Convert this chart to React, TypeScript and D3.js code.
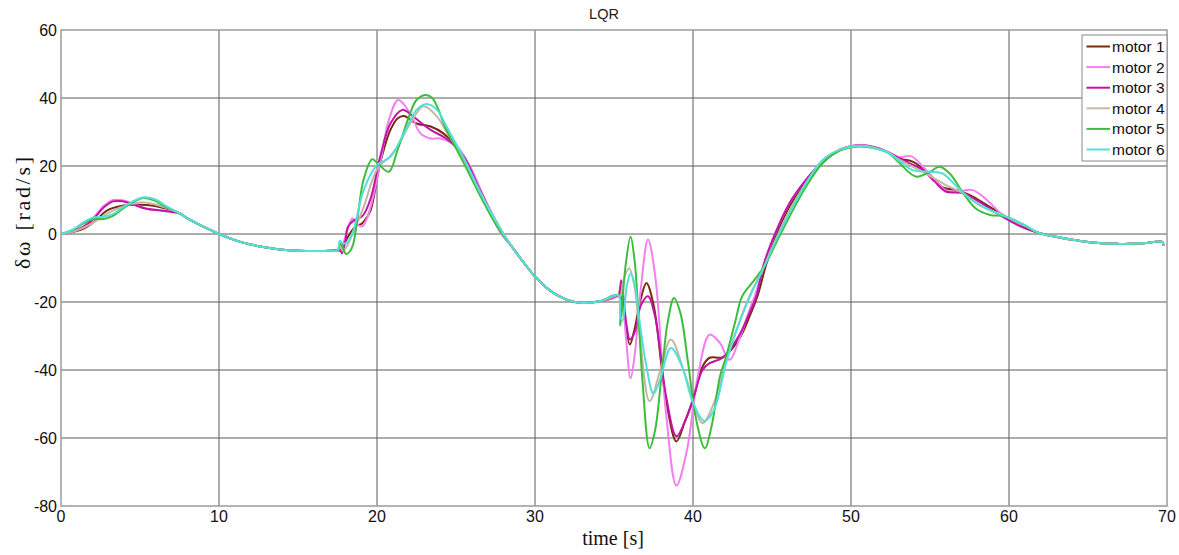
import React from "react";
import * as d3 from "d3";

type P = [number, number];

const X_TICKS = [0, 10, 20, 30, 40, 50, 60, 70];
const Y_TICKS = [-80, -60, -40, -20, 0, 20, 40, 60];
const SERIES_NAMES = ["motor 1", "motor 2", "motor 3", "motor 4", "motor 5", "motor 6"];
const SERIES_COLORS = ["#7a2a10", "#f27ef0", "#c414a6", "#c6b6a6", "#3cbe3c", "#52e0d8"];

// shared stretches where all motors overlap
const COMMON_A: P[] = [[7.5, 6.1], [8, 4.6], [9, 2.2], [10, 0], [11, -1.8], [12, -3.1], [13, -4], [14, -4.6], [15, -4.9], [16, -5], [17, -4.9], [17.5, -4.8]];
const COMMON_B: P[] = [[28.5, -3.5], [29.3, -8.5], [30, -12.5], [31, -16.8], [32, -19.3], [33, -20.3], [34.1, -19.8]];
const COMMON_C: P[] = [[61.9, 0.3], [63.2, -1], [64.2, -1.8], [65.3, -2.5], [66.8, -2.9], [68.5, -2.7], [69.7, -2.3], [69.78, -3.4]];

// motor 1
const M1_START: P[] = [[0, 0], [0.5, 0.3], [1.4, 1.5], [2.2, 4], [2.9, 6.9], [3.9, 8.3], [5, 8.6], [5.85, 8.3], [6.7, 7.4]];
const M1_MID: P[] = [[17.7, -4.5], [17.9, -3], [18.2, -0.5], [18.5, 1.5], [18.7, 2.5], [19, 2.9], [19.3, 4.5], [19.6, 7], [20.2, 20.8], [20.85, 30.6], [21.3, 34], [21.7, 34.7], [22.5, 32.5], [23.4, 31.6], [24.2, 29.6], [25.05, 25.7], [25.9, 19], [26.75, 10.5], [27.8, 0.8]];
const M1_LATE: P[] = [[35.27, -18], [35.4, -15.5], [35.6, -22], [36, -32.5], [36.3, -28], [36.7, -19], [37.05, -14.4], [37.5, -20.7], [38.3, -49], [38.95, -61], [39.5, -55], [40, -48.7], [40.6, -39], [41.05, -36.4], [41.9, -36.2], [42.9, -31], [43.6, -24], [44.1, -18], [44.6, -9.5], [45.25, -0.5], [46.1, 8], [47.15, 15.3], [48.2, 21], [49.3, 24.7], [50.5, 26], [51.5, 25.4], [52.4, 23.9], [53.0, 22.2], [53.9, 21.3], [55, 17.4], [55.8, 13.7], [56.7, 12.9], [57.5, 11.5], [58.6, 8.5], [59.6, 5.6], [60.7, 2.4]];

// motor 2
const M2_START: P[] = [[0, 0], [0.5, 0.3], [1.4, 2.2], [2.05, 4.8], [2.7, 8.2], [3.3, 10], [3.9, 9.9], [4.6, 8.8], [5.4, 7.5], [6.3, 7], [7.1, 6.6]];
const M2_MID: P[] = [[17.7, -5], [17.95, -1.5], [18.3, 3.5], [18.45, 4.6], [18.7, 3], [19.05, 2.2], [19.3, 3.9], [19.6, 8], [20.2, 20.8], [20.75, 33.5], [21.35, 39.4], [22.1, 35.5], [22.75, 29.6], [23.4, 28.1], [24, 28.1], [25.05, 25.7], [25.9, 19.8], [26.75, 11], [27.8, 0.5]];
const M2_LATE: P[] = [[35.27, -18], [35.45, -15], [35.75, -30], [36.05, -42.4], [36.3, -36], [36.7, -16], [37.15, -1.6], [37.6, -12], [38.3, -53], [38.95, -74], [39.6, -64], [40.3, -42], [41.05, -29.6], [41.7, -32], [42.3, -37], [43, -30], [43.6, -22], [44, -17], [44.5, -8.6], [45.25, 0.7], [46.1, 9], [47.15, 15.9], [48.2, 21.3], [49.3, 24.8], [50.5, 26.2], [51.5, 25.6], [52.4, 24], [52.9, 22.5], [53.8, 22.9], [54.55, 19.8], [55.3, 15.9], [56, 12.9], [56.7, 12.5], [57.7, 12.9], [58.6, 10], [59.6, 5.6], [60.7, 2.6]];

// motor 3
const M3_START: P[] = [[0, 0], [0.5, 0.3], [1.4, 2], [2.05, 4.4], [2.7, 7.8], [3.3, 9.6], [3.9, 9.6], [4.6, 8.6], [5.4, 7.4], [6.3, 6.9], [7.1, 6.4]];
const M3_MID: P[] = [[17.7, -4.9], [17.78, -5.7], [18, -2], [18.15, 2], [18.5, 3.9], [19.1, 5.4], [19.6, 10.5], [20.2, 22.7], [20.85, 32.5], [21.6, 36.5], [22.3, 34.5], [23.4, 30.6], [24.4, 28], [25.5, 22.7], [26.5, 13], [27.8, 1.5]];
const M3_LATE: P[] = [[35.27, -18], [35.33, -18], [35.45, -13.6], [35.55, -16.6], [35.8, -27], [36, -31], [36.3, -29], [36.7, -21], [37.15, -18.3], [37.6, -24.3], [38.3, -47.8], [38.95, -59.5], [39.5, -55], [40, -48.7], [40.6, -40], [41.05, -38], [41.9, -36.3], [42.9, -30], [43.6, -23], [44, -18.4], [44.5, -8.6], [45.25, 0.7], [46.1, 9], [47.15, 15.9], [48.2, 21.3], [49.3, 24.8], [50.5, 26.1], [51.5, 25.5], [52.4, 23.9], [53.5, 21.3], [54.56, 18.8], [55.3, 15.4], [56, 12.5], [57.1, 12], [58.1, 9.5], [59.4, 5.6], [60.7, 2.3]];

// motor 4
const M4_START: P[] = [[0, 0], [0.5, 0.3], [1.4, 1.8], [2.2, 3.8], [2.9, 6], [3.9, 8], [5, 9.3], [5.85, 8.8], [6.7, 7.6]];
const M4_MID: P[] = [[17.7, -4], [17.85, -5], [18.1, -3.5], [18.5, 0.5], [19.16, 8], [20, 19], [20.85, 23], [21.3, 25.7], [22.1, 32.5], [22.95, 37.6], [23.8, 34.5], [24.4, 30], [25.5, 22], [26.5, 12.5], [27.7, 2.5]];
const M4_LATE: P[] = [[35.27, -18], [35.4, -18.5], [35.6, -13.6], [35.96, -10.1], [36.3, -15.6], [36.6, -28], [37.25, -49.2], [37.9, -40.6], [38.6, -31], [39.5, -41.4], [40.6, -55.6], [41.3, -50], [42.15, -36.5], [43, -25], [43.6, -18], [44.5, -9.6], [45.25, -1.5], [46.1, 6.8], [47.15, 15], [48.2, 21.5], [49.3, 24.8], [50.5, 26], [51.5, 25.4], [52.4, 23.9], [53.0, 22], [53.9, 19.8], [55, 17.1], [56, 14.4], [57.1, 12], [58.1, 8.5], [59.8, 5.1], [61, 2.5]];

// motor 5
const M5_START: P[] = [[0, 0], [0.78, 1.2], [1.41, 3.1], [2.05, 4.4], [2.68, 4.4], [3.31, 5.4], [4.16, 8.3], [5.21, 10.6], [5.84, 10], [6.7, 7.8]];
const M5_MID: P[] = [[17.7, -2.9], [18.05, -5.9], [18.3, -5], [18.5, -2.9], [18.8, 5.9], [19.15, 16], [19.7, 22], [20.1, 20.5], [20.75, 18.3], [21.3, 24.7], [22.1, 35.5], [22.5, 39.4], [23.05, 40.9], [23.5, 40], [24.4, 30.6], [25.5, 20.8], [26.5, 11.5], [27.6, 2.2]];
const M5_LATE: P[] = [[35.27, -18], [35.4, -26.9], [35.7, -10.6], [36.05, -0.8], [36.3, -7.7], [36.5, -20], [36.8, -43], [37.25, -63], [37.6, -57.7], [38, -42], [38.4, -25.9], [38.8, -18.8], [39.2, -23.2], [39.7, -38.3], [40.2, -54.6], [40.75, -63], [41.2, -56], [41.7, -42], [42.1, -36], [42.7, -25.3], [43.1, -18.4], [43.8, -14], [44.5, -9.6], [45.25, -2.7], [46.1, 5.1], [47.15, 13.9], [48.2, 20.8], [49.3, 24.5], [50.5, 25.7], [51.5, 25.2], [52.4, 23.7], [52.97, 21.3], [54.1, 16.9], [55, 18.3], [55.6, 19.8], [56.25, 17.8], [57.1, 12], [57.9, 7.5], [58.8, 5.6], [59.6, 5.3], [60.25, 4.3], [61, 2.5]];

// motor 6
const M6_START: P[] = [[0, 0], [0.78, 1.4], [1.41, 3.4], [2.05, 4.9], [2.68, 5.1], [3.31, 5.9], [4.16, 8.6], [5.21, 10.8], [5.9, 10.3], [6.8, 7.8]];
const M6_MID: P[] = [[17.65, -2], [17.85, -2.8], [18.1, -2.5], [18.5, 1], [19.16, 13], [20, 20.3], [20.85, 22.7], [21.7, 29.6], [22.5, 36.5], [23.15, 38.2], [23.8, 36.5], [24.4, 31.6], [25.5, 22.3], [26.5, 12.5], [27.6, 3.1]];
const M6_LATE: P[] = [[35.27, -18], [35.4, -24.4], [35.55, -25.4], [35.8, -15.6], [36.05, -11.6], [36.3, -14.5], [36.6, -25], [37, -37.5], [37.5, -47], [37.9, -43], [38.6, -33.5], [39.3, -38.9], [40, -49.6], [40.7, -55], [41.3, -52], [42.15, -37], [43, -25.2], [43.7, -17.4], [44.5, -9.6], [45.25, -1.8], [46.1, 6.1], [47.15, 14.9], [48.2, 21.8], [49.3, 24.8], [50.5, 25.9], [51.5, 25.3], [52.4, 23.8], [52.97, 21.8], [53.9, 18.8], [55, 18.3], [55.8, 17.8], [56.7, 13.9], [57.5, 10.5], [58.6, 7.5], [59.8, 5.1], [61, 2.6]];

const MOTOR1: P[] = [...M1_START, ...COMMON_A, ...M1_MID, ...COMMON_B, ...M1_LATE, ...COMMON_C];
const MOTOR2: P[] = [...M2_START, ...COMMON_A, ...M2_MID, ...COMMON_B, ...M2_LATE, ...COMMON_C];
const MOTOR3: P[] = [...M3_START, ...COMMON_A, ...M3_MID, ...COMMON_B, ...M3_LATE, ...COMMON_C];
const MOTOR4: P[] = [...M4_START, ...COMMON_A, ...M4_MID, ...COMMON_B, ...M4_LATE, ...COMMON_C];
const MOTOR5: P[] = [...M5_START, ...COMMON_A, ...M5_MID, ...COMMON_B, ...M5_LATE, ...COMMON_C];
const MOTOR6: P[] = [...M6_START, ...COMMON_A, ...M6_MID, ...COMMON_B, ...M6_LATE, ...COMMON_C];
const SERIES = [MOTOR1, MOTOR2, MOTOR3, MOTOR4, MOTOR5, MOTOR6];

const W = 1179;
const H = 555;
const LEFT = 61;
const RIGHT = 1167;
const TOP = 30;
const BOTTOM = 506;

export default function App() {
  const x = d3.scaleLinear().domain([0, 70]).range([LEFT, RIGHT]);
  const y = d3.scaleLinear().domain([-80, 60]).range([BOTTOM, TOP]);
  const line = d3
    .line<P>()
    .x((d) => x(d[0]))
    .y((d) => y(d[1]))
    .curve(d3.curveCatmullRom.alpha(0.5));

  const sans = "'Liberation Sans', Arial, sans-serif";
  const serif = "'Liberation Serif', 'Times New Roman', serif";

  const legX = 1082;
  const legY = 35;
  const legW = 85;
  const legRow = 20.6;

  return (
    <svg
      width={W}
      height={H}
      style={{ position: "absolute", left: 0, top: 0, background: "#fff" }}
    >
      <rect x={0} y={0} width={W} height={H} fill="#fff" />
      <text x={604} y={19} fontFamily={sans} fontSize={14.5} textAnchor="middle" fill="#222">
        LQR
      </text>
      {/* grid */}
      {X_TICKS.slice(1, -1).map((t) => (
        <line key={"gx" + t} x1={x(t)} x2={x(t)} y1={TOP} y2={BOTTOM} stroke="#5a5a5a" strokeWidth={1} />
      ))}
      {Y_TICKS.slice(1, -1).map((t) => (
        <line key={"gy" + t} x1={LEFT} x2={RIGHT} y1={y(t)} y2={y(t)} stroke="#5a5a5a" strokeWidth={1} />
      ))}
      <rect x={LEFT} y={TOP} width={RIGHT - LEFT} height={BOTTOM - TOP} fill="none" stroke="#9a9a9a" strokeWidth={1.5} />
      {/* ticks */}
      {X_TICKS.map((t) => (
        <text key={"tx" + t} x={x(t)} y={522} fontFamily={sans} fontSize={16} textAnchor="middle" fill="#111">
          {t}
        </text>
      ))}
      {Y_TICKS.map((t) => (
        <text key={"ty" + t} x={57} y={y(t)} dy="0.36em" fontFamily={sans} fontSize={16} textAnchor="end" fill="#111">
          {t}
        </text>
      ))}
      <text x={613} y={545} fontFamily={serif} fontSize={20} textAnchor="middle" fill="#111">
        time [s]
      </text>
      <text
        transform={`translate(30, 213) rotate(-90)`}
        fontFamily={serif}
        fontSize={22}
        textAnchor="middle"
        textLength={112}
        lengthAdjust="spacing"
        fill="#111"
      >
        δω [rad/s]
      </text>
      {/* series */}
      <g clipPath="url(#plotclip)">
        {SERIES.map((s, i) => (
          <path key={"s" + i} d={line(s) || ""} fill="none" stroke={SERIES_COLORS[i]} strokeWidth={2} />
        ))}
      </g>
      <defs>
        <clipPath id="plotclip">
          <rect x={LEFT} y={TOP} width={RIGHT - LEFT} height={BOTTOM - TOP} />
        </clipPath>
      </defs>
      {/* legend */}
      <rect x={legX} y={legY} width={legW} height={126} fill="#fff" stroke="#8a8a8a" strokeWidth={1} />
      {SERIES_NAMES.map((n, i) => {
        const cy = legY + 11.5 + i * legRow;
        return (
          <g key={"l" + i}>
            <line x1={legX + 4.5} x2={legX + 28} y1={cy} y2={cy} stroke={SERIES_COLORS[i]} strokeWidth={2} />
            <text x={legX + 30} y={cy} dy="0.36em" fontFamily={sans} fontSize={15.5} fill="#111">
              {n}
            </text>
          </g>
        );
      })}
    </svg>
  );
}
